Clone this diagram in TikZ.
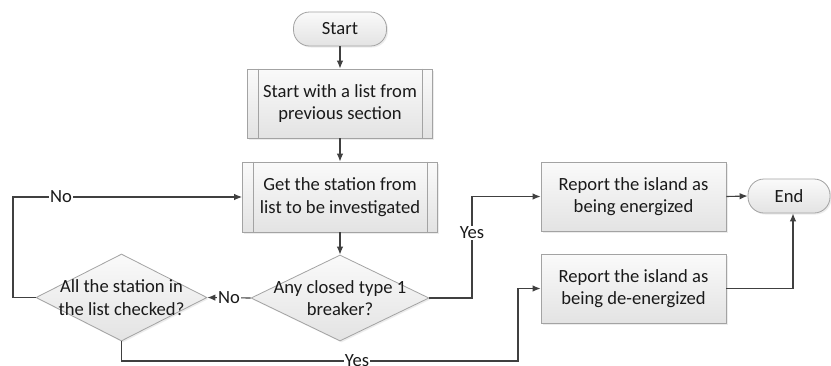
\documentclass[tikz,border=0pt]{standalone}
\usepackage{fontspec}
\setmainfont{Carlito}
\usetikzlibrary{shapes.geometric,shadows,arrows.meta}
\definecolor{edgegray}{HTML}{A3A3A3}
\definecolor{linegray}{HTML}{404040}
\definecolor{inkgray}{HTML}{1A1A1A}
\begin{document}
\begin{tikzpicture}[x=1pt,y=-1pt,
  font=\fontsize{18.6}{22.5}\selectfont, text=inkgray,
  boxbase/.style={draw=edgegray, line width=0.8pt, top color=black!2, bottom color=black!11,
    drop shadow={shadow xshift=1.5pt, shadow yshift=-1.5pt, fill=black!14}},
  terminal/.style={boxbase, rounded corners=16pt, minimum height=34pt, inner sep=0pt},
  procbox/.style={boxbase, minimum width=185pt, minimum height=69pt, align=center, inner sep=0pt},
  decision/.style={boxbase, diamond, inner sep=0pt},
  flow/.style={draw=linegray, line width=1.1pt, -{Latex[length=8pt,width=6.5pt]}},
  lbl/.style={fill=white, inner sep=1pt}]

% canvas
\fill[white] (0,0) rectangle (831,365);
\useasboundingbox (0,0) rectangle (831,365);

% terminals
\node[terminal, minimum width=93pt] (start) at (340,29) {Start};
\node[terminal, minimum width=82pt] (end) at (789,196) {End};

% predefined processes
\node[procbox] (b1) at (340,103.5) {Start with a list from\\previous section};
\node[procbox, minimum width=195pt, minimum height=70pt] (b2) at (340,197) {Get the station from\\list to be investigated};
\foreach \n in {b1,b2}{
  \draw[edgegray, line width=0.8pt] ([xshift=11pt]\n.north west) -- ([xshift=11pt]\n.south west);
  \draw[edgegray, line width=0.8pt] ([xshift=-11pt]\n.north east) -- ([xshift=-11pt]\n.south east);
}

% plain processes
\node[procbox] (b3) at (633.5,196.5) {Report the island as\\being energized};
\node[procbox] (b4) at (633.5,288.5) {Report the island as\\being de-energized};

% decisions
\node[decision, minimum width=178pt, minimum height=86pt] (d1) at (340,298) {};
\node[align=center] (d1t) at (d1) {Any closed type 1\\breaker?};
\node[decision, minimum width=171pt, minimum height=87pt] (d2) at (121.5,297.5) {};
\node[align=center] (d2t) at (d2) {All the station in\\the list checked?};

% routing helpers
\coordinate (lx) at (13,0);
\coordinate (yx) at (472,0);
\coordinate (yb) at (518,361);

% connectors
\draw[flow] (start) -- (b1);
\draw[flow] (b1) -- (b2);
\draw[flow] (b2) -- (d1);
\draw[flow] (d1.west) -- node[lbl, pos=0.5]{No} (d2.east);
\draw[flow] (d2.west) -- (d2.west -| lx) -- (lx |- b2.west) -- node[lbl, pos=0.21]{No} (b2.west);
\draw[flow] (d1.east) -- (d1.east -| yx) -- node[lbl, pos=0.64]{Yes} (yx |- b3.west) -- (b3.west);
\draw[flow] (d2.south) -- (d2.south |- yb) -- node[lbl, pos=0.594]{Yes} (yb) -- (yb |- b4.west) -- (b4.west);
\draw[flow] (b3.east) -- (end.west);
\draw[flow] (b4.east) -| ([xshift=4pt]end.south);
\end{tikzpicture}
\end{document}
